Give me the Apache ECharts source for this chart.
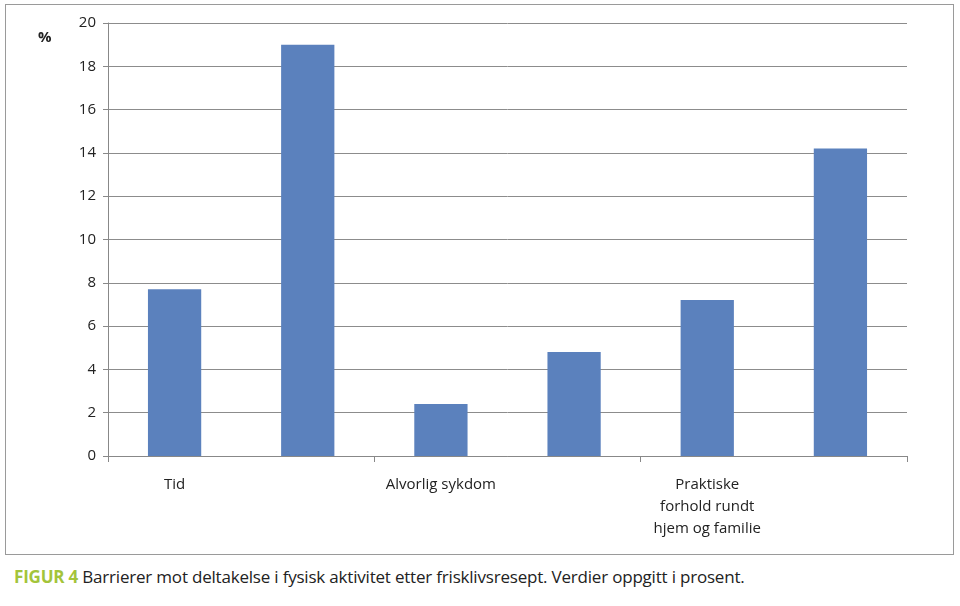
<!DOCTYPE html>
<html>
<head>
<meta charset="utf-8">
<script src="https://cdn.jsdelivr.net/npm/echarts@6/dist/echarts.min.js"></script>
<style>
body{margin:0;background:#fff;font-family:"Open Sans",sans-serif;}
#box{position:absolute;left:5px;top:4px;width:949px;height:551px;border:1px solid #9a9a9a;box-sizing:border-box;}
#main{position:absolute;left:0;top:0;width:960px;height:560px;}
#cap{position:absolute;left:14px;top:565px;font-size:17px;color:#222;font-family:"Open Sans",sans-serif;letter-spacing:-0.2px;}
#cap b{color:#a3c43a;}
</style>
</head>
<body>
<div id="box"></div>
<div id="main"></div>
<div id="cap"><b>FIGUR 4</b> Barrierer mot deltakelse i fysisk aktivitet etter frisklivsresept. Verdier oppgitt i prosent.</div>
<script>
// kategorier og verdier (%)
var categories = ['Tid', 'Tiltagende\nhelseplager', 'Alvorlig sykdom', 'Økonomi', 'Praktiske\nforhold rundt\nhjem og familie', 'Andre'];
var values = [7.7, 19.0, 2.4, 4.8, 7.2, 14.2];

var chart = echarts.init(document.getElementById('main'));
chart.setOption({
    animation: false,
    grid: {left: 108, right: 53, top: 23, bottom: 104},
    graphic: [{type: 'text', left: 38, top: 30, style: {text: '%', font: 'bold 15px "Open Sans"', fill: '#222'}}],
    xAxis: {
        type: 'category',
        data: categories,
        axisLine: {lineStyle: {color: '#888'}},
        axisTick: {show: true, length: 6, lineStyle: {color: '#888'}},
        axisLabel: {color: '#222', fontSize: 15, margin: 18, lineHeight: 22, fontFamily: 'Open Sans'}
    },
    yAxis: {
        type: 'value', min: 0, max: 20, interval: 2,
        axisLine: {show: true, lineStyle: {color: '#888'}},
        axisTick: {show: true, length: 5, lineStyle: {color: '#888'}},
        splitLine: {lineStyle: {color: '#8c8c8c'}},
        axisLabel: {color: '#222', fontSize: 15, margin: 12, fontFamily: 'Open Sans'}
    },
    series: [{
        type: 'bar',
        data: values,
        barWidth: '40%',
        itemStyle: {color: '#5b81bd'}
    }]
});
</script>
</body>
</html>
